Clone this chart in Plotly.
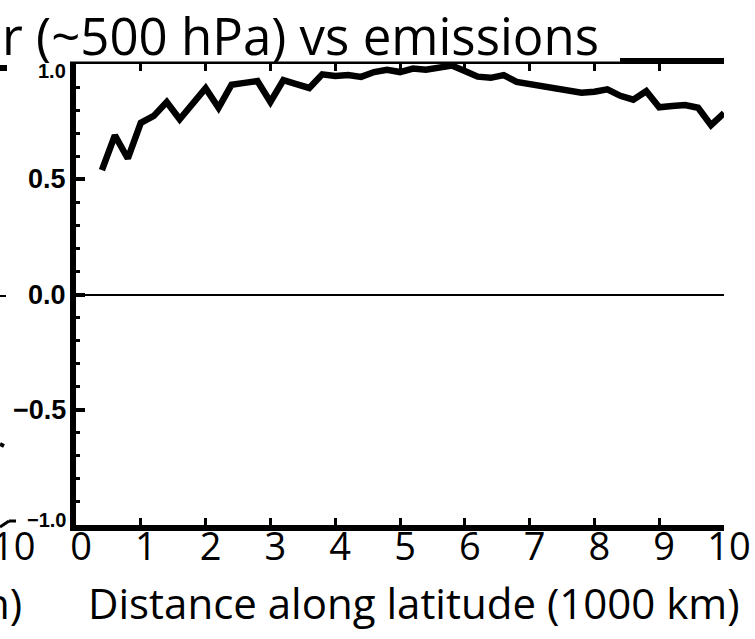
import plotly.graph_objects as go

# ---- data ----
distance = [0.4, 0.6, 0.8, 1.0, 1.2, 1.4, 1.6, 1.8, 2.0, 2.2, 2.4, 2.6, 2.8, 3.0,
            3.2, 3.4, 3.6, 3.8, 4.0, 4.2, 4.4, 4.6, 4.8, 5.0, 5.2, 5.4, 5.6, 5.8,
            6.0, 6.2, 6.4, 6.6, 6.8, 7.0, 7.2, 7.4, 7.6, 7.8, 8.0, 8.2, 8.4, 8.6,
            8.8, 9.0, 9.2, 9.4, 9.6, 9.8, 10.0]
correlation = [0.54, 0.69, 0.59, 0.745, 0.775, 0.835, 0.76, 0.83, 0.895, 0.81,
               0.91, 0.918, 0.926, 0.835, 0.93, 0.913, 0.896, 0.955, 0.948, 0.952,
               0.944, 0.965, 0.975, 0.965, 0.98, 0.975, 0.985, 0.993, 0.97, 0.945,
               0.94, 0.952, 0.922, 0.912, 0.905, 0.892, 0.878, 0.875, 0.88, 0.89,
               0.862, 0.845, 0.882, 0.812, 0.818, 0.822, 0.81, 0.735, 0.787]
x_tick_vals = [0, 1, 2, 3, 4, 5, 6, 7, 8, 9, 10]
x_tick_text = ["0", "1", "2", "3", "4", "5", "6", "7", "8", "9", "10"]
y_tick_vals = [1.0, 0.5, 0.0, -0.5, -1.0]
y_tick_text = ["1.0", "0.5", "0.0", "\u22120.5", "\u22121.0"]

title_text = "r (~500 hPa) vs emissions"
x_title_text = "Distance along latitude (1000 km)"

# ---- geometry helpers ----
W, H = 755, 639
L, R, T, B = 76, 724, 64, 525


def px_x(x):
    return (x - L) / (R - L)


def px_y(y):
    return (B - y) / (B - T)


SANS = "Open Sans"
ARIAL = "Liberation Sans, Arial"

fig = go.Figure()
fig.add_trace(go.Scatter(
    x=distance, y=correlation, mode="lines",
    line=dict(color="black", width=6.5),
    showlegend=False, hoverinfo="skip",
))

fig.update_layout(
    width=W, height=H,
    margin=dict(l=L, r=W - R, t=T, b=H - B, pad=0),
    paper_bgcolor="white", plot_bgcolor="white",
    showlegend=False,
)

fig.update_xaxes(
    range=[0, 10], tickvals=x_tick_vals, ticktext=x_tick_text,
    ticks="inside", ticklen=7, tickwidth=3, tickcolor="black",
    showline=True, linewidth=6, linecolor="black", mirror="ticks",
    showgrid=False, zeroline=False, automargin=False,
    tickfont=dict(family=SANS, size=38, color="black"),
    ticklabelshift=5, ticklabelstandoff=-17,
)
fig.update_yaxes(
    range=[-1, 1], tickvals=y_tick_vals, showticklabels=False,
    ticks="inside", ticklen=9, tickwidth=4, tickcolor="black",
    minor=dict(dtick=0.1, ticks="inside", ticklen=4, tickwidth=2.5, tickcolor="black"),
    showline=True, linewidth=6, linecolor="black", mirror=False,
    showgrid=False, zeroline=True, zerolinecolor="black", zerolinewidth=1.5,
    automargin=False,
)

# y tick labels as annotations (end labels are smaller and nudged inward)
y_label_size = {1.0: 20, -1.0: 20}
y_label_shift = {1.0: -7, -1.0: 5}
for v, t in zip(y_tick_vals, y_tick_text):
    fig.add_annotation(
        x=0, xref="paper", y=v, yref="y", text="<b>" + t + "</b>", showarrow=False,
        xanchor="right", yanchor="middle", xshift=-8,
        yshift=y_label_shift.get(v, 0),
        font=dict(family=ARIAL, size=y_label_size.get(v, 27), color="black"),
    )

# white band left by the title box, partly hiding the top axis
fig.add_shape(type="rect", xref="paper", yref="paper",
              x0=px_x(-5), x1=px_x(620), y0=px_y(61.5), y1=px_y(-5),
              fillcolor="white", line=dict(width=0), layer="above")

# title (cut off by the left edge in the reference)
fig.add_annotation(
    x=px_x(0), xref="paper", y=px_y(35), yref="paper", text=title_text,
    showarrow=False, xanchor="left", yanchor="middle",
    font=dict(family=SANS, size=51, color="black"),
)

# x axis title
fig.add_annotation(
    x=px_x(414), xref="paper", y=px_y(602), yref="paper", text=x_title_text,
    showarrow=False, xanchor="center", yanchor="middle",
    font=dict(family=SANS, size=42, color="black"),
)

# fragments of the neighbouring panel on the left edge
fig.add_annotation(
    x=px_x(37), xref="paper", y=px_y(545), yref="paper", text="10",
    showarrow=False, xanchor="right", yanchor="middle",
    font=dict(family=SANS, size=38, color="black"),
)
fig.add_annotation(
    x=px_x(24), xref="paper", y=px_y(602), yref="paper", text="n)",
    showarrow=False, xanchor="right", yanchor="middle",
    font=dict(family=SANS, size=42, color="black"),
)
for (x0, y0, x1, y1, w) in [(0, 68, 7, 68, 6), (0, 296, 6, 296, 2),
                           (0, 444, 4, 446, 4), (0, 527, 9, 521, 3), (9, 521, 16, 521, 3)]:
    fig.add_shape(type="line", xref="paper", yref="paper",
                  x0=px_x(x0), y0=px_y(y0), x1=px_x(x1), y1=px_y(y1),
                  line=dict(color="black", width=w), layer="above")

fig.write_html("out.html")
